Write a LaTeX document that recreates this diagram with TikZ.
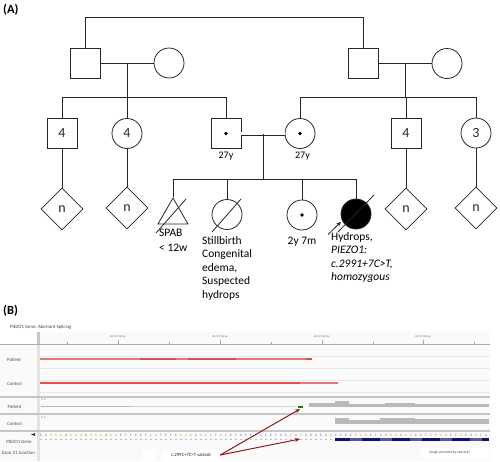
\documentclass[tikz,border=0pt]{standalone}
\usepackage{fontspec}
\setmainfont{Carlito}
\usetikzlibrary{shapes.geometric,calc,arrows.meta}
\definecolor{corA}{RGB}{40,150,40}
\definecolor{corC}{RGB}{40,70,210}
\definecolor{corG}{RGB}{215,150,40}
\definecolor{corT}{RGB}{210,40,40}
\definecolor{seta}{RGB}{140,28,28}
\definecolor{azul}{RGB}{18,18,110}
\definecolor{rosado}{RGB}{228,118,118}
\definecolor{escuro}{RGB}{205,82,82}
\definecolor{vivo}{RGB}{232,78,78}
\begin{document}
\begin{tikzpicture}[x=1pt,y=-1pt]
\tikzstyle{linha}=[black!85, line width=.8pt]
\tikzstyle{quadrado}=[rectangle, minimum size=30pt, inner sep=0, linha, draw, font=\fontsize{14}{14}\selectfont]
\tikzstyle{circulo}=[circle, minimum size=30pt, inner sep=0, linha, draw, font=\fontsize{14}{14}\selectfont]
\tikzstyle{losango}=[diamond, minimum size=42pt, inner sep=0, linha, draw, font=\fontsize{14}{14}\selectfont]
\tikzstyle{triangulo}=[regular polygon, regular polygon sides=3, minimum size=34.6pt, inner sep=0, linha, draw]
\tikzstyle{texto}=[font=\fontsize{11.5}{13.5}\selectfont, align=left, inner sep=0]
\tikzstyle{faixa}=[font=\fontsize{4.8}{5}\selectfont, text=black!70, inner sep=0]
\tikzstyle{miudo}=[font=\fontsize{2.6}{3}\selectfont, text=black!60, inner sep=0]
\useasboundingbox (0,0) rectangle (500,461);
% (A) pedigree
\node[font=\bfseries\fontsize{12.5}{12.5}\selectfont, anchor=north west, inner sep=0] (rotA) at (3,4) {(A)};
\node[quadrado] (avoE) at (85,63) {};
\node[circulo] (avaE) at (169,63) {};
\node[quadrado] (avoD) at (363.5,63.5) {};
\node[circulo] (avaD) at (447,63.5) {};
\node[quadrado] (tioE) at (62,133) {4};
\node[circulo] (tiaE) at (127,133.5) {4};
\node[quadrado] (pai) at (226,133.5) {};
\node[circulo] (mae) at (300,133.5) {};
\node[quadrado] (tioD) at (406,133) {4};
\node[circulo] (tiaD) at (476,133) {3};
\node[losango] (n1) at (62,209) {n};
\node[losango] (n2) at (127,208) {n};
\node[losango] (n3) at (406,209) {n};
\node[losango] (n4) at (476,208) {n};
\node[triangulo] (spab) at (173,215.3) {};
\node[circulo] (natimorto) at (227,214.5) {};
\node[circulo] (irma) at (302,215) {};
\node[circulo, fill=black] (proband) at (356,214) {};
\fill (pai) circle (1.9);
\fill (mae) circle (1.9);
\fill (irma) circle (1.9);
\coordinate (topo) at (0,17.5);
\coordinate (irmE) at (0,97);
\coordinate (irmF) at (0,179);
\coordinate (casalE) at ($(avoE)!.5!(avaE)$);
\coordinate (casalD) at ($(avoD)!.5!(avaD)$);
\coordinate (casal) at ($(pai)!.5!(mae)$);
\draw[linha] (avoE.north) -- (avoE.north |- topo) -| (avoD.north);
\draw[linha] (avoE) -- (avaE);
\draw[linha] (avoD) -- (avaD);
\draw[linha] (casalE) -- (casalE |- irmE);
\draw[linha] (tioE.north) |- (pai.north |- irmE) -- (pai.north);
\draw[linha] (tiaE.north) -- (tiaE.north |- irmE);
\draw[linha] (casalD) -- (casalD |- irmE);
\draw[linha] (mae.north) |- (tiaD.north |- irmE) -- (tiaD.north);
\draw[linha] (tioD.north) -- (tioD.north |- irmE);
\draw[linha, double, double distance=2.4pt] (pai) -- (mae);
\draw[linha] (casal) -- (casal |- irmF);
\draw[linha] (spab.north) |- (proband.north |- irmF) -- (proband.north);
\draw[linha] (natimorto.north) -- (natimorto.north |- irmF);
\draw[linha] (irma.north) -- (irma.north |- irmF);
\draw[linha] (tioE) -- (n1);
\draw[linha] (tiaE) -- (n2);
\draw[linha] (tioD) -- (n3);
\draw[linha] (tiaD) -- (n4);
% deceased
\draw[linha] ($(spab)+(-17,17.7)$) -- ($(spab)+(13,-16.3)$);
\draw[linha] ($(natimorto)+(-15,17.5)$) -- ($(natimorto)+(14,-15.5)$);
\draw[linha] ($(proband)+(-18,18)$) -- ($(proband)+(18,-19)$);
\coordinate (cauda) at (328,234.5);
\draw[linha, -{Stealth[length=5pt,width=4pt]}, shorten >=1.5pt] (cauda) -- (proband.206);
\node[texto, font=\fontsize{10}{12}\selectfont, anchor=base] (idadePai) at (226,158.5) {27y};
\node[texto, font=\fontsize{10}{12}\selectfont, anchor=base] (idadeMae) at (302.5,158.5) {27y};
\node[texto, font=\fontsize{11.5}{15}\selectfont, anchor=north west] (rotSpab) at (159,229.3) {SPAB\\< 12w};
\node[texto, anchor=north west] (rotNati) at (202,236) {Stillbirth\\Congenital\\edema,\\Suspected\\hydrops};
\node[texto, anchor=base] (rotIrma) at (302,244.6) {2y 7m};
\node[texto, anchor=north west] (rotProb) at (331,232) {Hydrops,\\\textit{PIEZO1:}\\\textit{c.2991+7C>T,}\\\textit{homozygous}};
% (B) browser view
\node[font=\bfseries\fontsize{12.5}{12.5}\selectfont, anchor=north west, inner sep=0] (rotB) at (3,305.5) {(B)};
\node[faixa, anchor=west, text=black!75] (titulo) at (10,327) {PIEZO1 Gene: Aberrant Splicing};
\fill[gray!4] (0,332) rectangle (490,461);
\fill[white] (0,332) rectangle (37,344);
\fill[gray!45] (37,332) rectangle (40,344);
\fill[gray!22] (37,344) rectangle (40,461);
\foreach \x in {67,169,271,373,474} \draw[gray!70, line width=.4pt] (\x,341.5) -- (\x,344);
\foreach \x/\t in {118/760,220/780,322/800,423/820} {
  \draw[gray!70, line width=.4pt] (\x,339.5) -- (\x,344);
  \node[miudo] (pos\t) at (\x,336.5) {88,797,\t\ bp};
}
\draw[gray!65, line width=1.2pt] (0,344.3) -- (490,344.3);
\foreach \y in {356,368,380,392} \draw[gray!18, line width=.8pt] (40,\y) -- (490,\y);
\foreach \y in {397,414,431} \draw[gray!45, line width=1.6pt] (0,\y) -- (490,\y);
\fill[rosado] (40,358) rectangle (312,360);
\fill[escuro] (140,358) rectangle (176,360);
\fill[escuro] (188,358) rectangle (236,360);
\fill[escuro] (306,358) rectangle (312,360);
\fill[vivo] (40,382) rectangle (300,384);
\fill[rosado] (300,382) rectangle (338,384);
\node[faixa, anchor=west] (tPac) at (7,360) {Patient};
\node[faixa, anchor=west] (tCon) at (7,384) {Control};
\node[faixa, anchor=west] (tPac2) at (7.5,407) {Patient};
\node[faixa, anchor=west] (tCon2) at (7,424) {Control};
\node[faixa] (tGene) at (19,442) {PIEZO1 Gene};
\node[faixa] (tExon) at (18.5,453) {Exon 21 Junction};
\node[miudo, anchor=west] (escA) at (41,400) {0 - 8};
\node[miudo, anchor=west] (escB) at (41,417.5) {0 - 8};
% coverage
\draw[gray!55, line width=.6pt] (41,406.6) -- (132,406.6);
\draw[gray!35, line width=.6pt] (132,406.6) -- (297,406.6);
\fill[green!55!black] (298,406) rectangle (303,408);
\fill[gray!55] (309,403.3) rectangle (335,407.3);
\fill[gray!55] (335,401) rectangle (349,407.3);
\fill[gray!55] (349,404) rectangle (385,407.3);
\fill[gray!55] (385,403) rectangle (415,407.3);
\fill[gray!55] (415,404) rectangle (489,407.3);
\fill[gray!55] (335,417.5) rectangle (349,424.3);
\fill[gray!55] (349,419.5) rectangle (380,424.3);
\fill[gray!55] (380,418) rectangle (415,424.3);
\fill[gray!55] (415,419) rectangle (489,424.3);
% sequence and gene
\fill[black!80] (31,434.5) -- (35,433) -- (35,436) -- cycle;
\foreach \b [count=\i] in {C,A,G,G,G,A,G,G,G,A,G,G,G,A,G,G,C,T,T,C,C,T,G,G,T,C,T,C,G,G,G,C,G,G,G,T,G,G,C,T,C,C,C,T,C,C,C,T,C,C,G,A,G,C,A,C,C,A,G,C,C,C,C,T,G,G,C,T,C,C,G,G,A,G,G,C,C,T,G,T,G,G,C,T,G,C,A,G,G,A}
  \node[font=\fontsize{3.4}{3.4}\selectfont, inner sep=0, text=cor\b] (b\i) at ({36+5*\i},435.5) {\b};
\draw[gray!55, line width=.5pt, dash pattern=on 2pt off 3pt] (40,439.3) -- (335,439.3);
\fill[azul] (335,437.5) rectangle (489,441);
\foreach \s in {350,380,...,470} \fill[azul!70!white] (\s,437.5) rectangle (\s+12,441);
% annotation
\fill[white] (142,450) rectangle (155,460);
\node[faixa, fill=white, text=black!90, minimum width=58pt, minimum height=10pt] (variante) at (191,455) {c.2991+7C>T variant};
\fill[white] (420,448) rectangle (489,458);
\node[miudo, font=\fontsize{3.6}{4}\selectfont, text=black!70] (credito) at (450,453) {Image provided by Labcorp\textregistered};
\coordinate (alvoA) at (300,409);
\coordinate (alvoB) at (300,439);
\draw[seta, line width=1pt, -{Stealth[length=5pt,width=4pt]}] (variante.east) -- (alvoA);
\draw[seta, line width=1pt, -{Stealth[length=5pt,width=4pt]}] (variante.east) -- (alvoB);
\end{tikzpicture}
\end{document}
